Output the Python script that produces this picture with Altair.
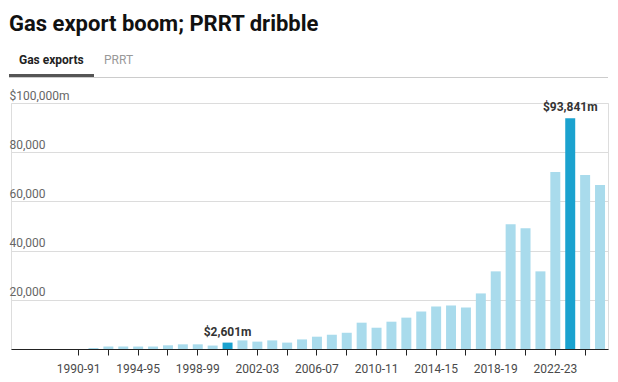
import altair as alt
import pandas as pd

# ---- data ----
years = [
    "1986-87", "1987-88", "1988-89", "1989-90",
    "1990-91", "1991-92", "1992-93", "1993-94", "1994-95", "1995-96",
    "1996-97", "1997-98", "1998-99", "1999-00", "2000-01", "2001-02",
    "2002-03", "2003-04", "2004-05", "2005-06", "2006-07", "2007-08",
    "2008-09", "2009-10", "2010-11", "2011-12", "2012-13", "2013-14",
    "2014-15", "2015-16", "2016-17", "2017-18", "2018-19", "2019-20",
    "2020-21", "2021-22", "2022-23", "2023-24", "2024-25", "2025-26",
]
gas_exports = [
    0, 0, 0, 0,
    0, 400, 1000, 1000, 1000, 1000,
    1500, 1900, 1900, 1400, 2601, 3500,
    3000, 3500, 2600, 3900, 5000, 5800,
    6600, 10700, 8650, 11100, 12750, 15240,
    17280, 17690, 16870, 22590, 31560, 50750,
    49120, 31560, 71970, 93841, 70750, 66670,
]
highlighted = ["2000-01", "2023-24"]
bar_labels = {"2000-01": "$2,601m", "2023-24": "$93,841m"}

tick_years = ["1990-91", "1992-93", "1994-95", "1996-97", "1998-99", "2000-01",
              "2002-03", "2004-05", "2006-07", "2008-09", "2010-11", "2012-13",
              "2014-15", "2016-17", "2018-19", "2020-21", "2022-23", "2024-25"]
label_years = ["1990-91", "1994-95", "1998-99", "2002-03", "2006-07",
               "2010-11", "2014-15", "2018-19", "2022-23"]
y_ticks = [0, 20000, 40000, 60000, 80000, 100000]

title_text = "Gas export boom; PRRT dribble"
tab_active = "Gas exports"
tab_other = "PRRT"

LIGHT = "#a9dbec"
DARK = "#1ba2cf"
FONT = "Roboto"

df = pd.DataFrame({
    "year": years,
    "value": gas_exports,
    "hl": [1 if y in highlighted else 0 for y in years],
    "label": [bar_labels.get(y, "") for y in years],
})

label_list = "[" + ",".join("'%s'" % y for y in label_years) + "]"

x_enc = alt.X(
    "year:N",
    sort=None,
    scale=alt.Scale(domain=years, paddingInner=0.33, paddingOuter=0.2),
    axis=alt.Axis(
        title=None,
        values=tick_years,
        labelExpr="indexof(%s, datum.value) >= 0 ? datum.value : ''" % label_list,
        labelAngle=0,
        labelOverlap=False,
        labelFont=FONT,
        labelFontSize=12,
        labelColor="#4a4a4a",
        labelBaseline="alphabetic",
        labelPadding=17,
        domainColor="#222",
        domainWidth=1,
        tickColor="#222",
        tickSize=6,
        grid=False,
    ),
)
y_enc = alt.Y(
    "value:Q",
    scale=alt.Scale(domain=[0, 100000], nice=False),
    axis=alt.Axis(
        title=None,
        values=y_ticks,
        labelExpr="datum.value == 0 ? '' : (datum.value == 100000 ? '$100,000m' : format(datum.value, ','))",
        labelAlign="left",
        labelBaseline="alphabetic",
        labelOffset=-4,
        labelPadding=2,
        labelFont=FONT,
        labelFontSize=12,
        labelColor="#666",
        ticks=False,
        tickSize=0,
        domain=False,
        grid=True,
        gridColor="#dcdcdc",
        gridWidth=1,
    ),
)

base = alt.Chart(df)

bars = base.mark_bar().encode(
    x=x_enc,
    y=y_enc,
    color=alt.condition("datum.hl == 1", alt.value(DARK), alt.value(LIGHT)),
)

labels = base.transform_filter("datum.hl == 1").mark_text(
    font=FONT, fontSize=12, fontWeight="bold", color="#333",
    baseline="alphabetic", align="center", dy=-7,
).encode(x="year:N", y="value:Q", text="label:N")

one = pd.DataFrame({"t": [title_text], "a": [tab_active], "b": [tab_other]})

title = alt.Chart(one).mark_text(
    font=FONT, fontSize=22, fontWeight="bold", color="#111",
    align="left", baseline="alphabetic",
).encode(x=alt.value(-2), y=alt.value(-72), text="t:N")

tab1 = alt.Chart(one).mark_text(
    font=FONT, fontSize=12, fontWeight="bold", color="#222",
    align="left", baseline="alphabetic",
).encode(x=alt.value(8), y=alt.value(-39), text="a:N")

tab2 = alt.Chart(one).mark_text(
    font=FONT, fontSize=12, color="#999",
    align="left", baseline="alphabetic",
).encode(x=alt.value(93), y=alt.value(-39), text="b:N")

thin_line = alt.Chart(one).mark_rule(color="#cccccc", strokeWidth=1).encode(
    x=alt.value(-2), x2=alt.value(597), y=alt.value(-25.5)
)
thick_line = alt.Chart(one).mark_rule(color="#555555", strokeWidth=3).encode(
    x=alt.value(-2), x2=alt.value(83), y=alt.value(-27.5)
)

chart = alt.layer(bars, labels, title, tab1, tab2, thin_line, thick_line).properties(
    width=597,
    height=246,
    padding={"left": 3, "top": 95, "right": 2, "bottom": 25},
    autosize=alt.AutoSizeParams(type="none"),
).configure_view(stroke=None).configure(font=FONT)

chart.save("out.html", embed_options={"renderer": "svg", "actions": False})
